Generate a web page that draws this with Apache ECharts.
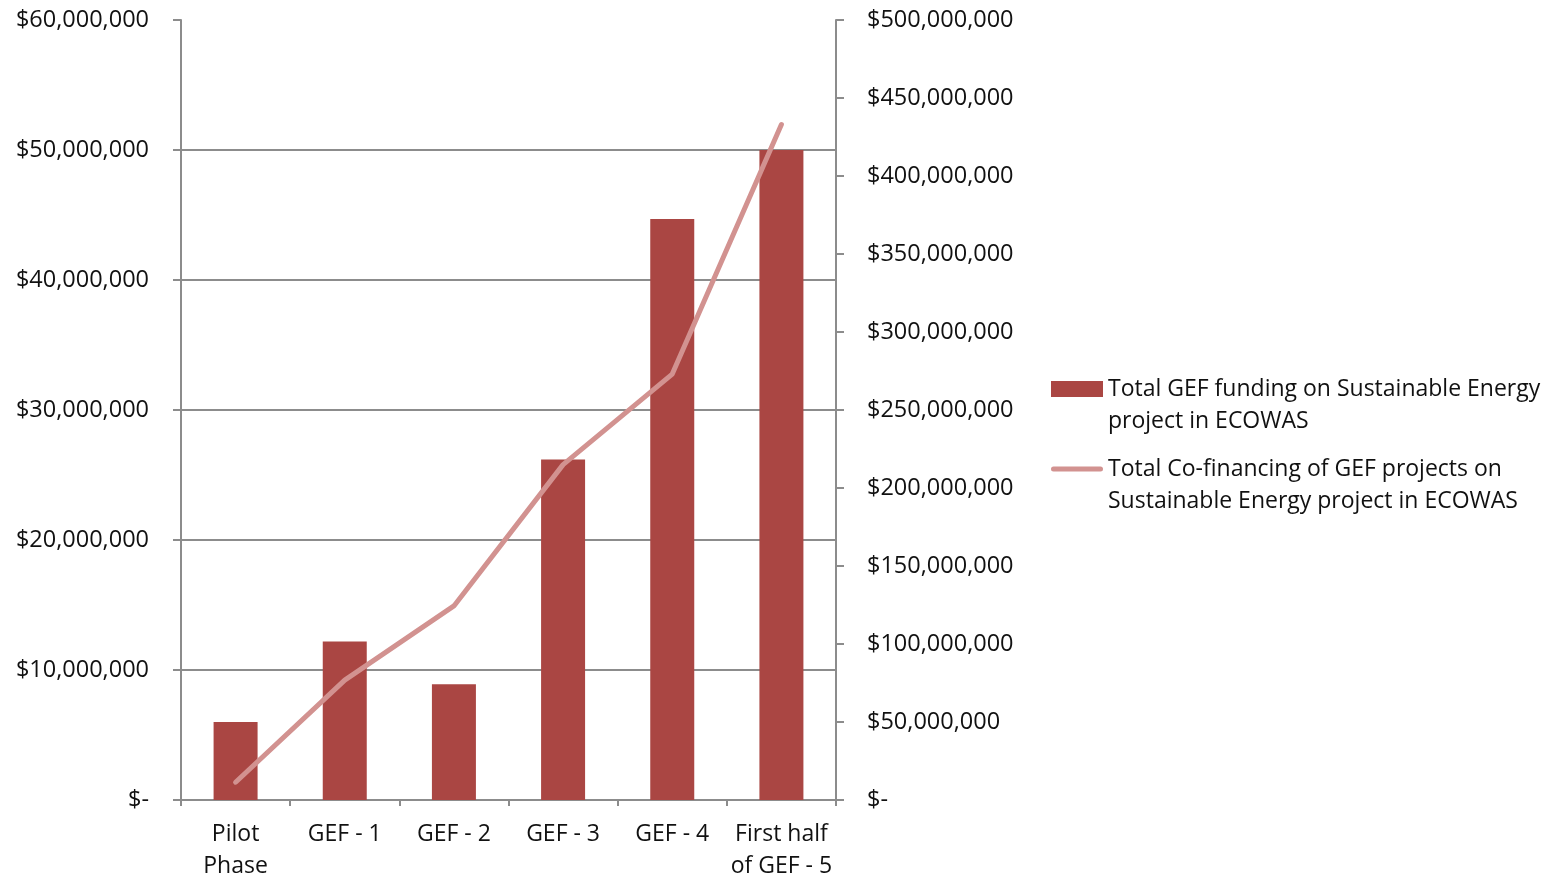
<!DOCTYPE html>
<html>
<head>
<meta charset="utf-8">
<script src="https://cdn.jsdelivr.net/npm/echarts@6/dist/echarts.min.js"></script>
<style>
html,body{margin:0;padding:0;background:#fff;overflow:hidden;}
#chart{width:1557px;height:877px;}
</style>
</head>
<body>
<div id="chart"></div>
<script>
const categories = ['Pilot\nPhase', 'GEF - 1', 'GEF - 2', 'GEF - 3', 'GEF - 4', 'First half\nof GEF - 5'];
const gefFunding = [6000000, 12200000, 8900000, 26200000, 44700000, 50000000];
const coFinancing = [11400000, 76800000, 124400000, 215000000, 273000000, 433000000];
const seriesNames = [
  'Total GEF funding on Sustainable Energy\nproject in ECOWAS',
  'Total Co-financing of GEF projects on\nSustainable Energy project in ECOWAS'
];

const FONT = "'Open Sans'";
const axisColor = '#8c8c8c';
const barColor = '#AA4643';
const lineColor = '#D29290';
function money(v) {
  return v === 0 ? '$-' : '$' + v.toLocaleString('en-US');
}
// legend icons: visible part in the top 16px, invisible extent down to 48px
const barIcon = 'path://M0,0H52V16H0Z M0,48H52V48H0Z';
const lineIcon = 'path://M0,0H52V0H0Z M2.5,5.5H49.5A2.5,2.5 0 0 1 49.5,10.5H2.5A2.5,2.5 0 0 1 2.5,5.5Z M0,48H52V48H0Z';

const chart = echarts.init(document.getElementById('chart'));
chart.setOption({
  backgroundColor: '#ffffff',
  animation: false,
  textStyle: { fontFamily: FONT },
  grid: { left: 181, right: 721, top: 20, bottom: 77, containLabel: false, outerBoundsMode: 'none' },
  legend: {
    orient: 'vertical',
    left: 1051,
    top: 373,
    padding: 0,
    itemGap: 16,
    itemWidth: 52,
    itemHeight: 48,
    data: [
      { name: seriesNames[0], icon: barIcon, itemStyle: { color: barColor, borderWidth: 0 } },
      { name: seriesNames[1], icon: lineIcon, itemStyle: { color: lineColor, borderWidth: 0 } }
    ],
    textStyle: {
      fontFamily: FONT,
      fontSize: 23,
      color: '#111',
      lineHeight: 32
    }
  },
  xAxis: {
    type: 'category',
    data: categories,
    boundaryGap: true,
    axisLine: { show: true, lineStyle: { color: axisColor, width: 2 } },
    axisTick: { show: true, length: 6, interval: 0, lineStyle: { color: axisColor, width: 2 } },
    axisLabel: {
      interval: 0,
      margin: 18,
      fontFamily: FONT,
      fontSize: 23,
      lineHeight: 32,
      color: '#111'
    },
    splitLine: { show: false }
  },
  yAxis: [
    {
      type: 'value',
      min: 0,
      max: 60000000,
      interval: 10000000,
      axisLine: { show: true, lineStyle: { color: axisColor, width: 2 } },
      axisTick: { show: true, length: 8, lineStyle: { color: axisColor, width: 2 } },
      axisLabel: {
        margin: 32,
        fontFamily: FONT,
        fontSize: 23.5,
        color: '#111',
        formatter: money
      },
      splitLine: { show: true, showMaxLine: false, lineStyle: { color: axisColor, width: 2 } }
    },
    {
      type: 'value',
      min: 0,
      max: 500000000,
      interval: 50000000,
      position: 'right',
      axisLine: { show: true, lineStyle: { color: axisColor, width: 2 } },
      axisTick: { show: true, length: 8, lineStyle: { color: axisColor, width: 2 } },
      axisLabel: {
        margin: 31,
        fontFamily: FONT,
        fontSize: 23.5,
        color: '#111',
        formatter: money
      },
      splitLine: { show: false }
    }
  ],
  series: [
    {
      name: seriesNames[0],
      type: 'bar',
      yAxisIndex: 0,
      data: gefFunding,
      barWidth: 44,
      itemStyle: { color: barColor }
    },
    {
      name: seriesNames[1],
      type: 'line',
      yAxisIndex: 1,
      data: coFinancing,
      symbol: 'none',
      showSymbol: false,
      lineStyle: { color: lineColor, width: 5, cap: 'round', join: 'round' },
      itemStyle: { color: lineColor }
    }
  ]
});
</script>
</body>
</html>
